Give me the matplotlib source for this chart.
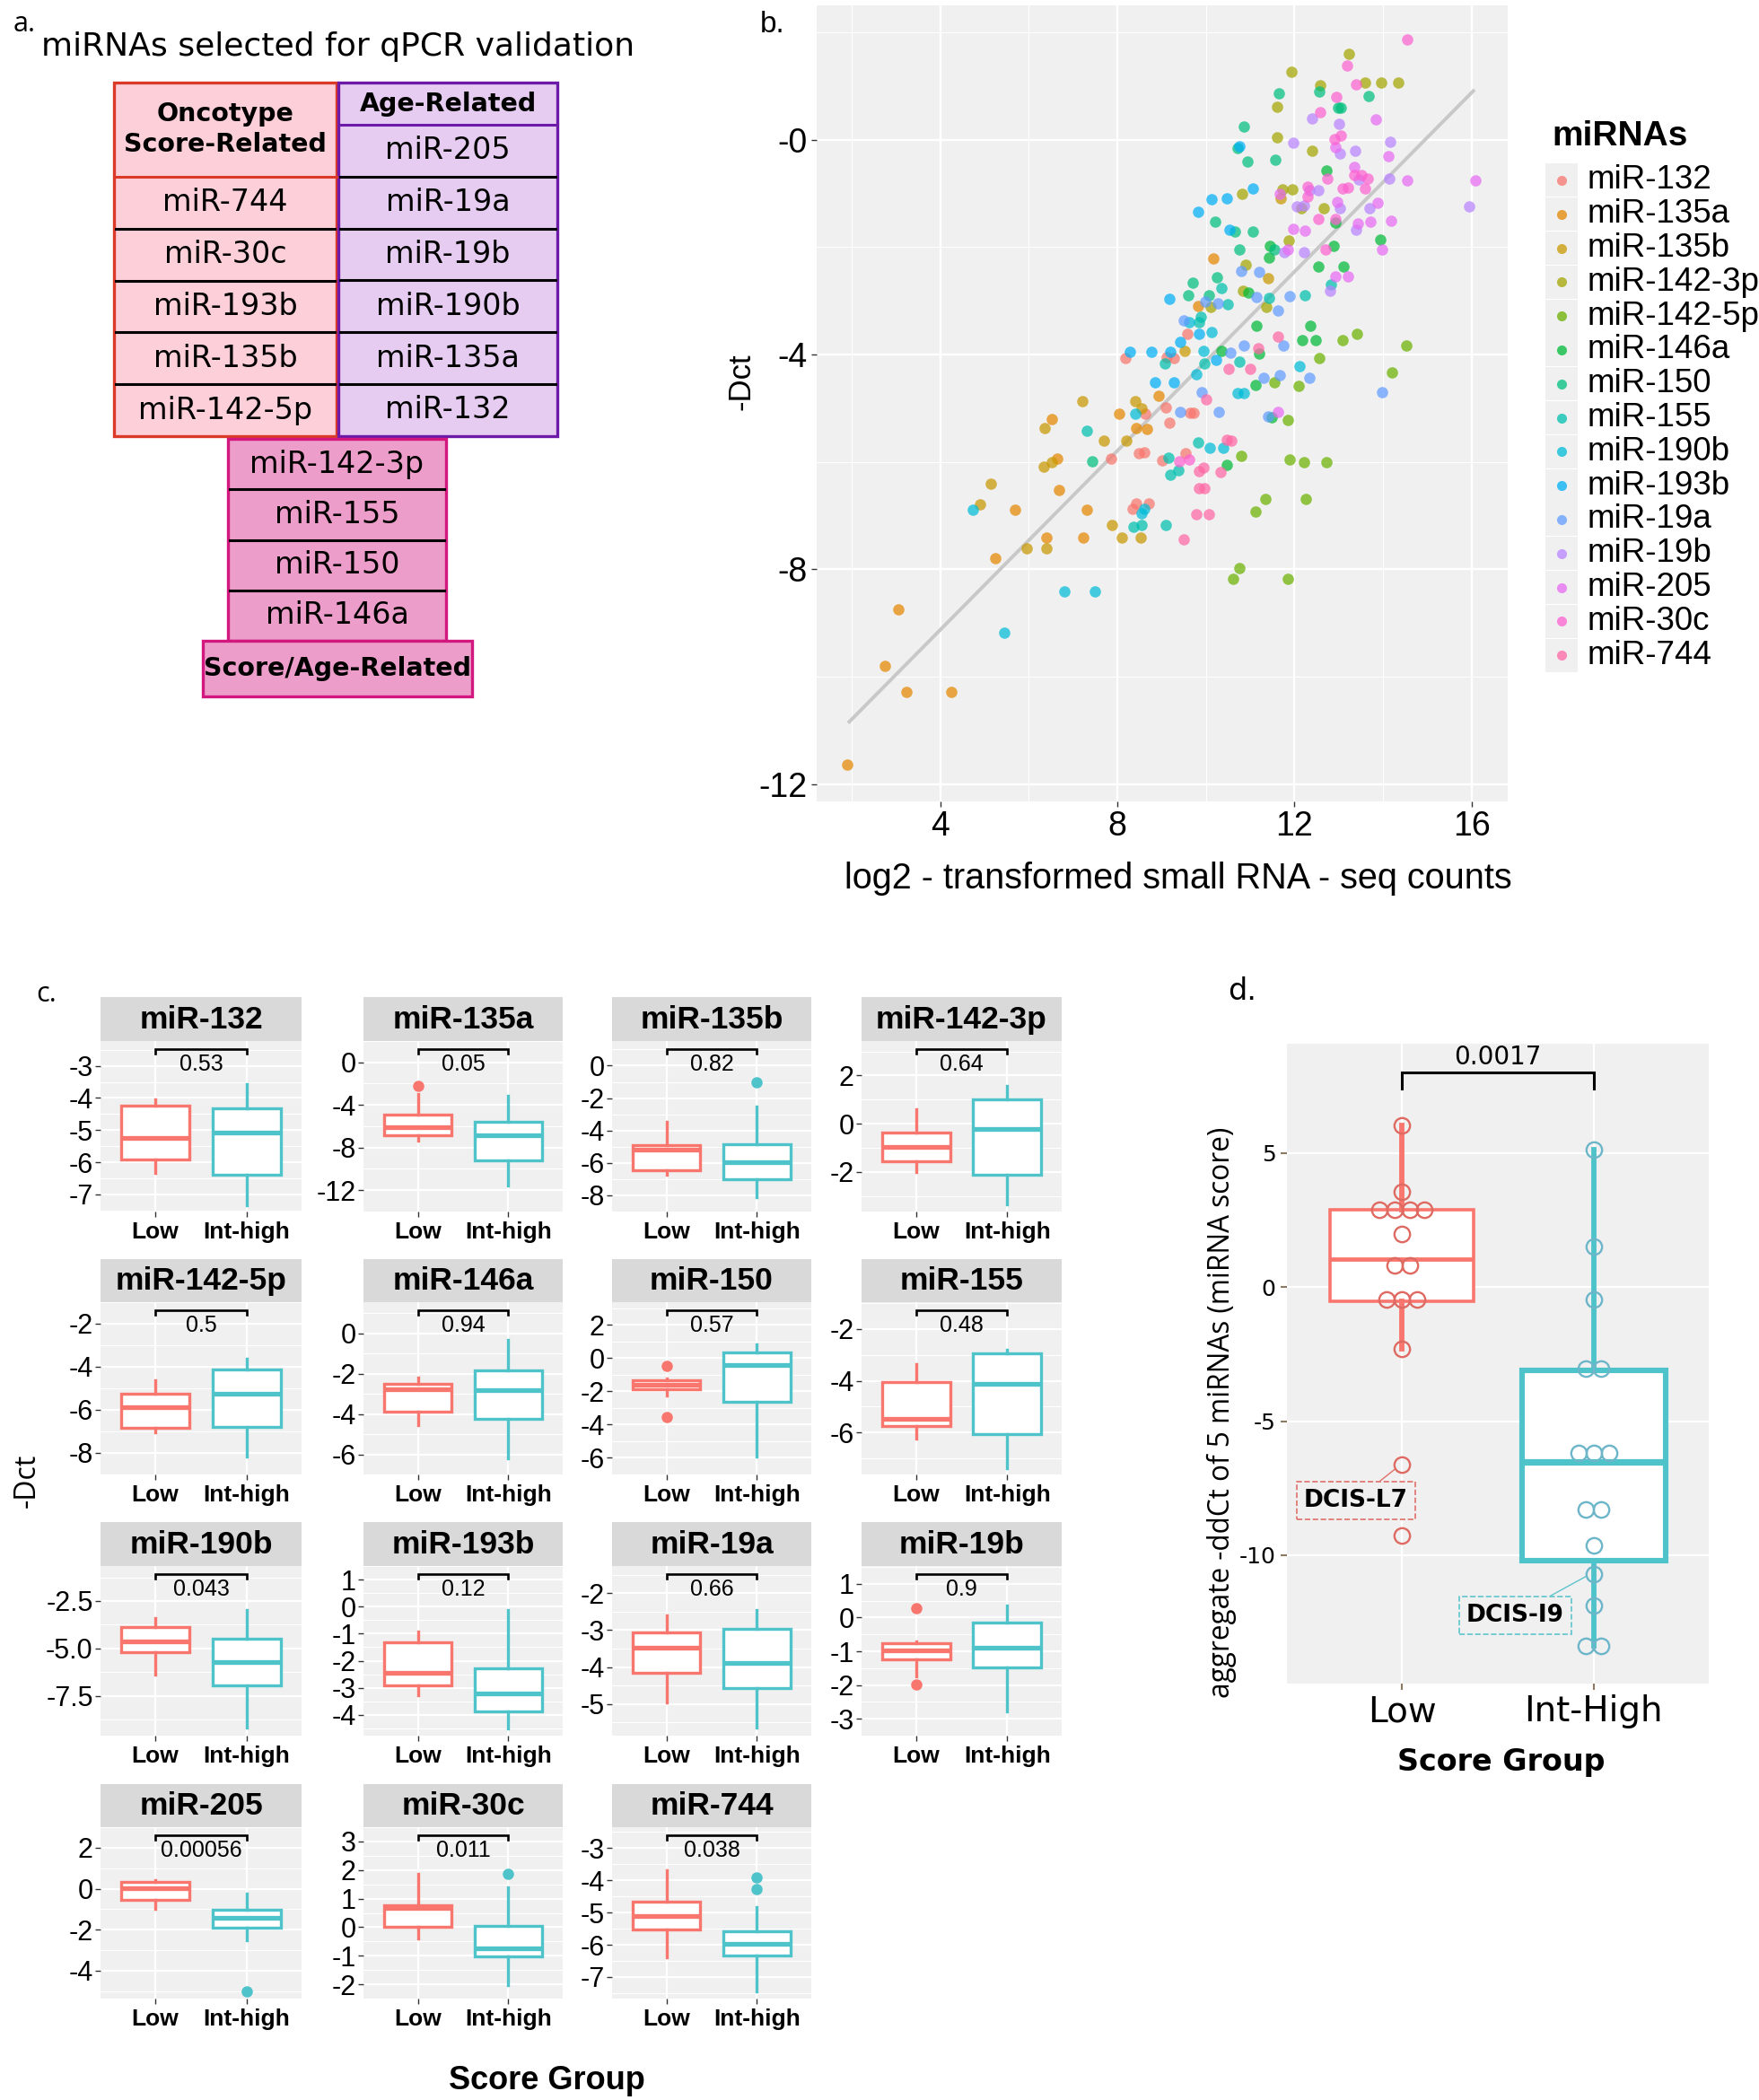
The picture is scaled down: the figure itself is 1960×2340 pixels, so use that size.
import numpy as np
import matplotlib
matplotlib.use('Agg')
import matplotlib.pyplot as plt
from matplotlib.patches import Rectangle
from matplotlib.transforms import blended_transform_factory

plt.rcParams['axes.unicode_minus'] = False
plt.rcParams['font.family'] = ['DejaVu Sans']

# ---------------- data: panel a ----------------
title_a = 'miRNAs selected for qPCR validation'
score_related = ['miR-744', 'miR-30c', 'miR-193b', 'miR-135b', 'miR-142-5p']
age_related = ['miR-205', 'miR-19a', 'miR-19b', 'miR-190b', 'miR-135a', 'miR-132']
score_age_related = ['miR-142-3p', 'miR-155', 'miR-150', 'miR-146a']
group_headers = ['Oncotype\nScore-Related', 'Age-Related', 'Score/Age-Related']

# ---------------- data: panel b ----------------
mirnas = ['miR-132', 'miR-135a', 'miR-135b', 'miR-142-3p', 'miR-142-5p', 'miR-146a',
          'miR-150', 'miR-155', 'miR-190b', 'miR-193b', 'miR-19a', 'miR-19b',
          'miR-205', 'miR-30c', 'miR-744']
b_x_132 = [9.58, 8.18, 9.11, 9.27, 9.09, 8.64, 9.64, 9.72, 9.18, 8.48, 8.61, 7.86, 9.02, 9.55, 8.34, 8.43, 8.72]
b_y_132 = [-3.61, -4.07, -4.05, -4.06, -4.98, -5.10, -5.08, -5.08, -5.27, -5.83, -5.82, -5.94, -5.97, -5.83, -6.87, -6.77, -6.77]
b_x_135a = [10.18, 9.82, 8.93, 8.05, 6.52, 8.42, 8.67, 6.65, 6.69, 5.69, 7.32, 6.41, 7.23, 5.24, 4.25, 3.24, 3.05, 2.75, 1.89]
b_y_135a = [-2.22, -3.10, -4.77, -5.11, -5.20, -5.37, -5.38, -5.94, -6.52, -6.89, -6.89, -7.40, -7.40, -7.79, -10.28, -10.28, -8.74, -9.79, -11.63]
b_x_135b = [11.41, 11.70, 9.52, 7.21, 8.41, 8.55, 6.35, 7.70, 8.21, 6.33, 6.53, 5.14, 7.88, 8.10, 8.52, 6.41, 5.95, 4.89]
b_y_135b = [-2.58, -1.10, -3.94, -4.86, -4.86, -5.00, -5.37, -5.60, -5.60, -6.08, -6.01, -6.40, -7.17, -7.40, -7.40, -7.61, -7.61, -6.79]
b_x_1423p = [11.60, 11.60, 10.81, 10.91, 10.84, 10.11, 11.37, 13.24, 11.93, 12.59, 13.59, 13.97, 14.35, 12.40, 11.73, 11.95, 12.16, 12.67, 11.87]
b_y_1423p = [0.61, 0.04, -1.01, -2.33, -2.81, -3.11, -3.11, 1.60, 1.27, 1.02, 1.07, 1.07, 1.06, -0.21, -0.92, -0.92, -1.28, -1.27, -1.88]
b_x_1425p = [13.09, 12.57, 11.55, 12.09, 11.86, 10.80, 11.90, 12.21, 12.72, 11.35, 12.26, 11.12, 10.75, 10.61, 11.86, 14.53, 14.20, 13.41]
b_y_1425p = [-3.74, -4.06, -4.52, -4.58, -5.22, -5.88, -5.96, -6.01, -6.01, -6.69, -6.69, -6.92, -7.97, -8.17, -8.17, -3.83, -4.34, -3.61]
b_x_146a = [11.45, 11.43, 10.96, 12.72, 12.93, 12.89, 13.95, 12.54, 13.11, 11.14, 11.21, 10.36, 12.37, 12.18, 12.48, 11.13, 11.48, 10.47]
b_y_146a = [-1.97, -2.20, -2.84, -0.57, -1.55, -1.98, -1.86, -2.37, -2.37, -3.47, -3.99, -3.94, -3.47, -3.74, -3.74, -4.56, -5.17, -6.05]
b_x_150 = [11.65, 10.86, 10.72, 10.95, 11.57, 10.22, 10.66, 11.07, 11.55, 10.75, 10.25, 9.70, 9.60, 10.07, 12.57, 13.67, 13.05, 12.98, 7.44]
b_y_150 = [0.87, 0.25, -0.16, -0.40, -0.38, -1.53, -1.71, -1.71, -2.05, -2.05, -2.57, -2.67, -2.89, -2.89, 0.90, 0.81, 0.60, 0.60, -5.98]
b_x_155 = [10.36, 10.49, 11.43, 9.89, 12.82, 12.24, 9.84, 9.08, 9.97, 10.75, 7.31, 9.83, 9.16, 9.20, 9.39, 8.36, 8.55, 9.09]
b_y_155 = [-2.77, -3.06, -2.94, -3.29, -2.69, -2.90, -3.40, -4.16, -4.17, -4.14, -5.42, -5.64, -5.92, -6.24, -6.16, -7.20, -7.17, -7.17]
b_x_190b = [9.62, 10.14, 9.95, 9.79, 12.11, 10.72, 10.86, 8.40, 10.08, 10.40, 8.61, 8.55, 6.80, 7.49, 5.45, 4.73]
b_y_190b = [-3.40, -3.58, -3.93, -4.37, -4.21, -4.72, -4.72, -5.11, -5.73, -5.73, -6.88, -6.95, -8.41, -8.41, -9.18, -6.89]
b_x_193b = [10.76, 11.07, 10.14, 10.47, 9.83, 10.53, 9.17, 9.85, 9.43, 8.28, 8.78, 9.19, 10.24, 8.86, 9.28]
b_y_193b = [-0.12, -0.91, -1.11, -1.10, -1.35, -1.67, -2.96, -3.62, -3.77, -3.95, -3.95, -3.95, -4.10, -4.51, -4.51]
b_x_19a = [10.79, 11.20, 9.99, 10.27, 11.14, 11.63, 9.50, 11.90, 10.55, 10.87, 11.76, 11.30, 11.68, 12.33, 9.90, 9.43, 10.29, 11.41, 13.98]
b_y_19a = [-2.44, -2.47, -3.02, -3.05, -2.93, -3.18, -3.37, -2.92, -3.96, -3.83, -3.83, -4.43, -4.39, -4.43, -4.70, -5.07, -5.07, -5.16, -4.70]
b_x_19b = [12.41, 13.01, 14.17, 11.97, 13.37, 13.03, 13.45, 14.14, 12.33, 12.55, 12.05, 12.22, 13.03, 13.69, 15.94, 13.39, 11.78, 12.22, 12.80]
b_y_19b = [0.40, 0.29, -0.04, -0.05, -0.20, -0.26, -0.74, -0.73, -0.95, -0.94, -1.24, -1.23, -1.28, -1.27, -1.24, -1.67, -2.09, -2.09, -2.82]
b_x_205 = [13.85, 12.93, 14.13, 13.35, 14.55, 16.09, 11.68, 12.96, 13.88, 13.43, 13.71, 14.18, 11.97, 12.24, 11.85, 13.99, 12.93, 13.21, 11.64]
b_y_205 = [0.37, -0.14, -0.30, -0.50, -0.76, -0.76, -1.01, -1.16, -1.17, -1.56, -1.52, -1.51, -1.66, -1.70, -2.04, -2.04, -2.54, -2.54, -5.07]
b_x_30c = [14.54, 13.20, 13.40, 12.95, 12.59, 13.05, 12.90, 12.74, 13.35, 13.52, 13.66, 12.30, 12.30, 13.08, 13.22, 13.60, 12.54, 12.93, 12.70, 9.40, 9.63]
b_y_30c = [1.86, 1.38, 1.03, 0.79, 0.51, 0.08, 0.01, -0.73, -0.65, -0.65, -0.73, -0.88, -1.06, -0.91, -0.90, -0.91, -1.48, -1.47, -2.05, -5.98, -5.95]
b_x_744 = [11.18, 11.64, 10.51, 11.01, 10.01, 10.47, 10.57, 9.84, 9.95, 10.34, 9.84, 9.97, 9.78, 10.06, 9.50]
b_y_744 = [-3.89, -3.67, -4.27, -4.26, -4.84, -5.59, -5.61, -6.17, -6.11, -6.18, -6.49, -6.49, -6.97, -6.97, -7.44]
b_xs = [b_x_132, b_x_135a, b_x_135b, b_x_1423p, b_x_1425p, b_x_146a, b_x_150, b_x_155,
        b_x_190b, b_x_193b, b_x_19a, b_x_19b, b_x_205, b_x_30c, b_x_744]
b_ys = [b_y_132, b_y_135a, b_y_135b, b_y_1423p, b_y_1425p, b_y_146a, b_y_150, b_y_155,
        b_y_190b, b_y_193b, b_y_19a, b_y_19b, b_y_205, b_y_30c, b_y_744]
fit_x = [1.92, 16.07]
fit_y = [-10.86, 0.93]
b_xticks = [4, 8, 12, 16]
b_yticks = [0, -4, -8, -12]
b_yticklabels = ['-0', '-4', '-8', '-12']

# ---------------- data: panel c ----------------
c_pvals = ['0.53', '0.05', '0.82', '0.64', '0.5', '0.94', '0.57', '0.48',
           '0.043', '0.12', '0.66', '0.9', '0.00056', '0.011', '0.038']
# (whislo, q1, med, q3, whishi)
c_low_stats = [(-6.34, -5.92, -5.25, -4.23, -4.04), (-7.36, -6.82, -6.09, -4.94, -3.00),
               (-6.72, -6.46, -5.20, -4.90, -3.44), (-2.00, -1.57, -0.96, -0.36, 0.60),
               (-7.05, -6.83, -5.87, -5.25, -4.63), (-4.53, -3.88, -2.77, -2.50, -2.21),
               (-2.27, -1.87, -1.61, -1.32, -1.20), (-6.22, -5.76, -5.46, -4.06, -3.36),
               (-6.37, -5.20, -4.63, -3.87, -3.42), (-3.27, -2.91, -2.46, -1.31, -0.91),
               (-4.95, -4.16, -3.47, -3.05, -2.60), (-1.74, -1.25, -0.97, -0.76, -0.70),
               (-1.00, -0.56, 0.03, 0.35, 0.40), (-0.39, 0.00, 0.68, 0.77, 1.88),
               (-6.40, -5.52, -5.12, -4.67, -3.70)]
c_low_fliers = [[], [-2.23], [], [], [], [], [-0.49, -3.55], [], [], [], [], [0.28, -1.99], [], [], []]
c_high_stats = [(-7.33, -6.40, -5.07, -4.33, -3.57), (-11.60, -9.23, -6.82, -5.58, -3.14),
                (-8.14, -7.02, -5.97, -4.86, -2.53), (-3.34, -2.13, -0.21, 1.02, 1.57),
                (-8.16, -6.81, -5.23, -4.13, -3.63), (-6.20, -4.24, -2.81, -1.83, -0.33),
                (-5.93, -2.63, -0.39, 0.35, 0.84), (-7.36, -6.06, -4.12, -2.92, -2.80),
                (-9.16, -6.94, -5.69, -4.48, -2.97), (-4.49, -3.89, -3.20, -2.29, -0.14),
                (-5.65, -4.58, -3.89, -2.97, -2.45), (-2.78, -1.49, -0.90, -0.14, 0.35),
                (-2.51, -1.89, -1.41, -1.02, -0.23), (-2.03, -1.03, -0.73, 0.04, 1.39),
                (-7.44, -6.34, -5.98, -5.57, -4.82)]
c_high_fliers = [[], [], [-1.05], [], [], [], [], [], [], [], [], [], [-5.0], [1.87], [-3.91, -4.28]]
c_yticks = [[-7, -6, -5, -4, -3], [-12, -8, -4, 0], [-8, -6, -4, -2, 0], [-2, 0, 2],
            [-8, -6, -4, -2], [-6, -4, -2, 0], [-6, -4, -2, 0, 2], [-6, -4, -2],
            [-7.5, -5.0, -2.5], [-4, -3, -2, -1, 0, 1], [-5, -4, -3, -2], [-3, -2, -1, 0, 1],
            [-4, -2, 0, 2], [-2, -1, 0, 1, 2, 3], [-7, -6, -5, -4, -3]]
c_ylims = [(-7.53, -2.23), (-12.13, 1.21), (-8.55, 1.52), (-3.64, 3.43),
           (-8.48, -1.93), (-6.6, 1.55), (-6.45, 3.37), (-7.62, -0.96),
           (-9.58, -0.66), (-4.77, 1.47), (-5.86, -1.26), (-3.03, 1.53),
           (-5.36, 2.39), (-2.28, 3.37), (-7.67, -2.35)]
c_groups = ['Low', 'Int-high']

# ---------------- data: panel d ----------------
d_groups = ['Low', 'Int-High']
d_low_stats = (-2.31, -0.53, 1.05, 2.87, 6.02)
d_high_stats = (-13.40, -10.20, -6.51, -3.10, 5.14)
d_low_vals = [6.02, 3.57, 2.87, 2.87, 2.87, 2.87, 1.98, 0.81, 0.81, -0.45, -0.45, -0.45, -2.31, -6.63, -9.28]
d_high_vals = [5.14, 1.51, -0.47, -3.05, -3.05, -6.19, -6.19, -6.19, -8.30, -8.30, -9.64, -10.72, -11.88, -13.40, -13.40]
d_pval = '0.0017'
d_labels = ['DCIS-L7', 'DCIS-I9']
d_label_vals = [-6.63, -10.72]

# ---------------- figure ----------------
W, H = 1960, 2340
fig = plt.figure(figsize=(W / 100, H / 100), dpi=100)
fig.patch.set_facecolor('white')


def box(x0, y0, x1, y1):
    return [x0 / W, 1 - y1 / H, (x1 - x0) / W, (y1 - y0) / H]


def ftext(x, y, s, **kw):
    fig.text(x / W, 1 - y / H, s, **kw)


PANEL_BG = '#F0F0F0'
LOWC = '#F8766D'
HIGHC = '#4EC3CA'
CF = ['Liberation Sans', 'DejaVu Sans']

# ================= panel a =================
aa = fig.add_axes(box(0, 0, 800, 800))
aa.set_xlim(0, 800)
aa.set_ylim(800, 0)
aa.axis('off')
ftext(15, 27, 'a.', fontsize=22, ha='left', va='center', family='Open Sans')
aa.text(46, 52, title_a, fontsize=26, ha='left', va='center')

red_fc, red_ec = '#FDD0D9', '#DC3A28'
pur_fc, pur_ec = '#E6CCF1', '#6E1AA8'
mag_fc, mag_ec = '#EC9DC9', '#D2177F'
row_h = 57.8
aa.add_patch(Rectangle((127, 92), 248, 394, fc=red_fc, ec='none'))
aa.text(251, 144, group_headers[0], fontsize=20.5, fontweight='bold', ha='center', va='center',
        linespacing=1.25)
aa.plot([127, 375], [197, 197], color=red_ec, lw=2.2)
for i, name in enumerate(score_related):
    yc = 197 + (i + 0.5) * row_h
    aa.text(251, yc, name, fontsize=24, ha='center', va='center')
    if i > 0:
        aa.plot([129, 373], [197 + i * row_h] * 2, color='black', lw=2.2)
aa.add_patch(Rectangle((127, 92), 248, 394, fc='none', ec=red_ec, lw=2.4))
aa.add_patch(Rectangle((377, 92), 244, 394, fc=pur_fc, ec='none'))
aa.text(499, 116, group_headers[1], fontsize=20.5, fontweight='bold', ha='center', va='center')
aa.plot([377, 621], [139, 139], color=pur_ec, lw=2.2)
for i, name in enumerate(age_related):
    yc = 139 + (i + 0.5) * row_h
    aa.text(499, yc, name, fontsize=24, ha='center', va='center')
    if i > 0:
        aa.plot([379, 619], [139 + i * row_h] * 2, color='black', lw=2.2)
aa.add_patch(Rectangle((377, 92), 244, 394, fc='none', ec=pur_ec, lw=2.4))
mrow = 56.25
aa.add_patch(Rectangle((254, 489), 243, 225, fc=mag_fc, ec=mag_ec, lw=2.4))
for i, name in enumerate(score_age_related):
    yc = 489 + (i + 0.5) * mrow
    aa.text(375.5, yc, name, fontsize=24, ha='center', va='center')
    if i > 0:
        aa.plot([256, 495], [489 + i * mrow] * 2, color='black', lw=2.2)
aa.add_patch(Rectangle((226, 714), 300, 62, fc=mag_fc, ec=mag_ec, lw=2.4))
aa.text(376, 745, group_headers[2], fontsize=20.5, fontweight='bold', ha='center', va='center')

# ================= panel b =================
hue15 = ['#F8766D', '#E58700', '#C99800', '#A3A500', '#6BB100', '#00BA38', '#00BF7D',
         '#00C0AF', '#00BCD8', '#00B0F6', '#619CFF', '#B983FF', '#E76BF3', '#FD61D1', '#FF67A4']
bfont = 'Liberation Sans'
bx = fig.add_axes(box(909.5, 6, 1680, 893))
bx.set_facecolor(PANEL_BG)
for xs, ys, col in zip(b_xs, b_ys, hue15):
    bx.scatter(xs, ys, s=82, color=col, alpha=0.72, lw=0, zorder=3)
bx.plot(fit_x, fit_y, color='#C8C8C8', lw=2.8, zorder=2, solid_capstyle='butt')
bx.set_xlim(1.2, 16.82)
bx.set_ylim(-12.32, 2.5)
bx.set_xticks(b_xticks)
bx.set_xticks([2, 6, 10, 14], minor=True)
bx.set_yticks(b_yticks)
bx.set_yticklabels(b_yticklabels)
bx.set_yticks([2, -2, -6, -10], minor=True)
bx.grid(True, which='major', color='white', lw=1.7)
bx.grid(True, which='minor', color='white', lw=0.8)
bx.set_axisbelow(True)
for s in bx.spines.values():
    s.set_visible(False)
bx.tick_params(which='major', length=4, width=1, color='#333333', labelsize=27, pad=3)
bx.tick_params(which='minor', length=0)
for lab in bx.get_xticklabels() + bx.get_yticklabels():
    lab.set_family(bfont)
ftext(861, 27, 'b.', fontsize=24, ha='center', va='center', family=bfont)
ftext(826, 425, '-Dct', fontsize=25, rotation=90, ha='center', va='center', family=bfont)
ftext(1313, 979, 'log2 - transformed small RNA - seq counts', fontsize=28.5, ha='center',
      va='center', family=bfont)
lg = fig.add_axes(box(1700, 100, 1960, 780))
lg.set_xlim(1700, 1960)
lg.set_ylim(780, 100)
lg.axis('off')
lg.text(1729, 152, 'miRNAs', fontsize=28, fontweight='bold', ha='left', va='center', family=bfont)
for i, (name, col) in enumerate(zip(mirnas, hue15)):
    yc = 201 + i * 37.8
    lg.add_patch(Rectangle((1722, yc - 18.5), 36, 37, fc=PANEL_BG, ec='none'))
    lg.plot([1740], [yc], 'o', ms=8, color=col, alpha=0.75, mew=0)
    lg.text(1769, yc, name, fontsize=26.5, ha='left', va='center', family=bfont)

# ================= panel c =================
col_x = [(112, 336), (405, 627), (682, 904), (960, 1183)]
row_y = [(1111, 1160, 1350), (1403, 1451, 1643), (1696, 1745, 1934), (1988, 2036, 2227)]
for k, name in enumerate(mirnas):
    r, c = divmod(k, 4)
    x0, x1 = col_x[c]
    st, pt, pb = row_y[r]
    sx = fig.add_axes(box(x0, st, x1, pt))
    sx.set_facecolor('#D9D9D9')
    sx.set_xticks([])
    sx.set_yticks([])
    for s in sx.spines.values():
        s.set_visible(False)
    sx.text(0.5, 0.48, name, transform=sx.transAxes, ha='center', va='center',
            fontsize=25.5, fontweight='bold', family=CF)
    ax = fig.add_axes(box(x0, pt, x1, pb))
    ax.set_facecolor(PANEL_BG)
    for grp, stats, fl, col in [(1, c_low_stats[k], c_low_fliers[k], LOWC),
                                (2, c_high_stats[k], c_high_fliers[k], HIGHC)]:
        d = dict(whislo=stats[0], q1=stats[1], med=stats[2], q3=stats[3], whishi=stats[4],
                 fliers=fl)
        ax.bxp([d], positions=[grp], widths=0.75, patch_artist=True, showcaps=False,
               boxprops=dict(facecolor='white', edgecolor=col, linewidth=2.4),
               whiskerprops=dict(color=col, linewidth=2.4),
               medianprops=dict(color=col, linewidth=3.8),
               flierprops=dict(marker='o', markerfacecolor=col, markeredgecolor=col,
                               markersize=8))
    ax.set_xlim(0.4, 2.6)
    ax.set_ylim(*c_ylims[k])
    ticks = c_yticks[k]
    ax.set_yticks(ticks)
    fmt = '%.1f' if k == 8 else '%g'
    ax.set_yticklabels([fmt % t for t in ticks], family=CF, fontsize=22)
    step = ticks[1] - ticks[0]
    minors = [ticks[0] - step / 2] + [t + step / 2 for t in ticks]
    ax.set_yticks(minors, minor=True)
    ax.set_xticks([1, 2])
    ax.set_xticklabels(c_groups, fontsize=19, fontweight='bold', family=CF)
    ax.grid(True, which='major', color='white', lw=1.6)
    ax.grid(True, which='minor', axis='y', color='white', lw=0.8)
    ax.set_axisbelow(True)
    for s in ax.spines.values():
        s.set_visible(False)
    ax.tick_params(which='major', length=4, width=1, color='#333333', pad=2)
    ax.tick_params(axis='x', pad=4)
    ax.tick_params(which='minor', length=0)
    tr = blended_transform_factory(ax.transData, ax.transAxes)
    ax.plot([1, 1, 2, 2], [0.925, 0.952, 0.952, 0.925], transform=tr, color='black',
            lw=1.9, clip_on=False, solid_joinstyle='miter')
    ax.text(1.5, 0.862, c_pvals[k], transform=tr, ha='center', va='center', fontsize=18,
            family=CF)

ftext(52, 1108, 'c.', fontsize=22, ha='center', va='center', family='Open Sans')
ftext(30, 1650, '-Dct', fontsize=23, rotation=90, ha='center', va='center', family='Open Sans')
ftext(609, 2318, 'Score Group', fontsize=26, fontweight='bold', ha='center', va='center',
      family=CF)

# ================= panel d =================
dx = fig.add_axes(box(1434, 1163, 1904, 1876))
dx.set_facecolor(PANEL_BG)
for grp, stats, col, lw in [(1, d_low_stats, LOWC, 2.6), (2, d_high_stats, HIGHC, 4.4)]:
    d = dict(whislo=stats[0], q1=stats[1], med=stats[2], q3=stats[3], whishi=stats[4], fliers=[])
    dx.bxp([d], positions=[grp], widths=0.75, patch_artist=True, showcaps=False,
           boxprops=dict(facecolor='white', edgecolor=col, linewidth=lw),
           whiskerprops=dict(color=col, linewidth=4.2),
           medianprops=dict(color=col, linewidth=lw + 0.8))
spacing = 0.079
for grp, vals, ec in [(1, d_low_vals, '#DE6A62'), (2, d_high_vals, '#6DB6C9')]:
    vals = np.array(vals)
    for v in np.unique(vals):
        n = int(np.sum(vals == v))
        xs = grp + (np.arange(n) - (n - 1) / 2) * spacing
        dx.plot(xs, [v] * n, 'o', mfc='none', mec=ec, ms=12.5, mew=1.7, zorder=5)
dx.set_xlim(0.4, 2.6)
dx.set_ylim(-14.79, 9.08)
dx.set_yticks([5, 0, -5, -10])
dx.set_yticklabels(['5', '0', '-5', '-10'])
dx.set_xticks([1, 2])
dx.set_xticklabels(d_groups, fontsize=28)
dx.grid(True, which='major', color='white', lw=1.6)
dx.set_axisbelow(True)
for s in dx.spines.values():
    s.set_visible(False)
dx.tick_params(which='major', length=5, width=1.5, color='#8C7B62', pad=4)
dx.tick_params(axis='y', labelsize=18)
dx.plot([1, 1, 2, 2], [7.4, 8.0, 8.0, 7.4], color='black', lw=2.2, solid_joinstyle='miter')
dx.text(1.5, 8.57, d_pval, ha='center', va='center', fontsize=20)
dx.annotate(d_labels[0], xy=(0.965, d_label_vals[0] - 0.15), xytext=(0.76, -7.95),
            ha='center', va='center', fontsize=19, fontweight='bold',
            bbox=dict(boxstyle='square,pad=0.3', fc=PANEL_BG, ec='#E0706A', ls='--', lw=1.2),
            arrowprops=dict(arrowstyle='-', color='#E0706A', lw=1, shrinkA=0, shrinkB=0))
dx.annotate(d_labels[1], xy=(1.965, d_label_vals[1] - 0.05), xytext=(1.59, -12.24),
            ha='center', va='center', fontsize=19, fontweight='bold',
            bbox=dict(boxstyle='square,pad=0.3', fc=PANEL_BG, ec='#5FC4CC', ls='--', lw=1.2),
            arrowprops=dict(arrowstyle='-', color='#5FC4CC', lw=1, shrinkA=0, shrinkB=0))
ftext(1384, 1105, 'd.', fontsize=24, ha='center', va='center')
ftext(1361, 1574, 'aggregate -ddCt of 5 miRNAs (miRNA score)', fontsize=22.7, rotation=90,
      ha='center', va='center', family='Open Sans')
ftext(1673, 1963, 'Score Group', fontsize=24, fontweight='bold', ha='center', va='center')

fig.savefig('out.png', dpi=100, facecolor='white')
